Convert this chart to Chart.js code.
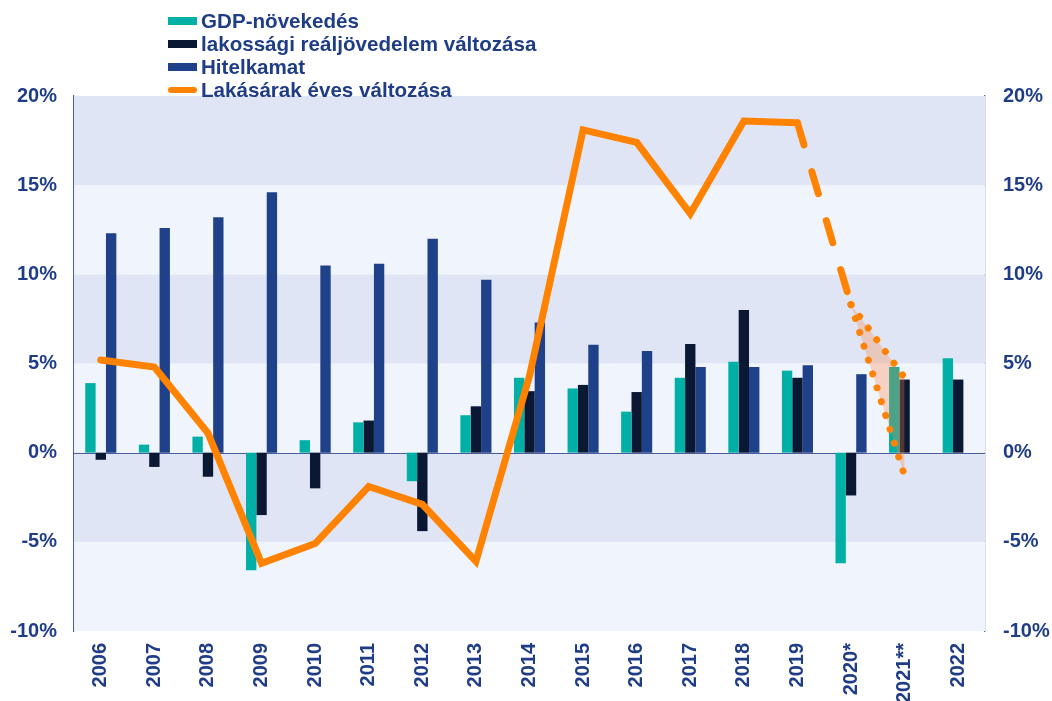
<!DOCTYPE html>
<html>
<head>
<meta charset="utf-8">
<script src="https://cdn.jsdelivr.net/npm/chart.js@4"></script>
<style>
  html, body { margin: 0; padding: 0; background: #fff; }
  #wrap { position: relative; width: 1052px; height: 701px; }
  #legend { position: absolute; left: 168px; top: 9px; font: bold 20.6px "Liberation Sans", Arial, sans-serif; color: #1f3d87; }
  #legend div { height: 23px; line-height: 23px; white-space: nowrap; display: flex; align-items: center; }
  #legend i { display: inline-block; width: 29px; height: 8px; margin-right: 4px; }
  #legend i.ln { height: 6px; border-radius: 3px; }
</style>
</head>
<body>
<div id="wrap">
  <canvas id="c" width="1052" height="701"></canvas>
  <div id="legend"></div>
</div>
<script>
// ---- data ----
const years = ["2006","2007","2008","2009","2010","2011","2012","2013","2014","2015","2016","2017","2018","2019","2020*","2021**","2022"];
const gdp      = [3.9, 0.45, 0.9, -6.6, 0.7, 1.7, -1.6, 2.1, 4.2, 3.6, 2.3, 4.2, 5.1, 4.6, -6.2, 4.8, 5.3];
const income   = [-0.4, -0.8, -1.35, -3.5, -2.0, 1.8, -4.4, 2.6, 3.45, 3.8, 3.4, 6.1, 8.0, 4.2, -2.4, 4.1, 4.1];
const rate     = [12.3, 12.6, 13.2, 14.6, 10.5, 10.6, 12.0, 9.7, 7.3, 6.05, 5.7, 4.8, 4.8, 4.9, 4.4, null, null];
const house    = [5.2, 4.8, 1.1, -6.2, -5.1, -1.9, -2.9, -6.1, 4.3, 18.1, 17.4, 13.4, 18.6, 18.5, null, null, null];
const houseEst = [null, null, null, null, null, null, null, null, null, null, null, null, null, 18.5, 8.3, null, null];
const houseHi  = [null, null, null, null, null, null, null, null, null, null, null, null, null, null, 8.3, 4.2, null];
const houseLo  = [null, null, null, null, null, null, null, null, null, null, null, null, null, null, 8.3, -1.3, null];

const C = { teal: "#00b0a6", navy: "#0b1833", blue: "#1f4189", orange: "#ff8200", text: "#1f3d87", axis: "#4a5e9c" };
const FONT = { family: "'Liberation Sans', Arial, sans-serif", size: 20, weight: "bold" };

// legend (html)
const legendItems = [
  ["GDP-növekedés", C.teal, false],
  ["lakossági reáljövedelem változása", C.navy, false],
  ["Hitelkamat", C.blue, false],
  ["Lakásárak éves változása", C.orange, true]
];
document.getElementById("legend").innerHTML = legendItems.map(function (it) {
  return '<div><i class="' + (it[2] ? "ln" : "") + '" style="background:' + it[1] + '"></i>' + it[0] + '</div>';
}).join("");

// alternating bands behind the plot
const bands = {
  id: "bands",
  beforeDatasetsDraw(chart) {
    const { ctx, chartArea: a, scales: { y } } = chart;
    ctx.save();
    for (let v = -10; v < 20; v += 5) {
      const top = y.getPixelForValue(v + 5), bot = y.getPixelForValue(v);
      ctx.fillStyle = (Math.abs(v / 5) % 2 === 0) ? "#f0f4fc" : "#dfe5f4";
      ctx.fillRect(a.left, top, a.right - a.left, bot - top);
    }
    // zero line
    const z = Math.round(y.getPixelForValue(0)) + 0.5;
    ctx.strokeStyle = C.axis; ctx.lineWidth = 1.2;
    ctx.beginPath(); ctx.moveTo(a.left, z); ctx.lineTo(a.right, z); ctx.stroke();
    ctx.restore();
  }
};

const barBase = { categoryPercentage: 0.58, barPercentage: 1, order: 2, yAxisID: "y" };
const lineBase = { type: "line", order: 1, yAxisID: "y", borderColor: C.orange, pointRadius: 0, fill: false, spanGaps: false };

new Chart(document.getElementById("c"), {
  type: "bar",
  data: {
    labels: years,
    datasets: [
      Object.assign({ label: "GDP-növekedés", data: gdp, backgroundColor: C.teal }, barBase),
      Object.assign({ label: "lakossági reáljövedelem változása", data: income, backgroundColor: C.navy }, barBase),
      Object.assign({ label: "Hitelkamat", data: rate, backgroundColor: C.blue }, barBase),
      Object.assign({ label: "Lakásárak éves változása", data: house, borderWidth: 7, borderCapStyle: "round", borderJoinStyle: "miter" }, lineBase),
      Object.assign({ label: "becslés", data: houseEst, borderWidth: 7, borderCapStyle: "round", borderDash: [23, 28] }, lineBase),
      Object.assign({}, lineBase, { label: "felső", data: houseHi, borderWidth: 7, borderCapStyle: "round", borderDash: [0.01, 14.5],
                      fill: "+1", backgroundColor: "rgba(255,130,60,0.30)" }),
      Object.assign({ label: "alsó", data: houseLo, borderWidth: 7, borderCapStyle: "round", borderDash: [0.01, 14.5] }, lineBase)
    ]
  },
  options: {
    responsive: false,
    animation: false,
    layout: { padding: { top: 96, left: 0, right: 0, bottom: 0 } },
    plugins: { legend: { display: false }, tooltip: { enabled: false } },
    scales: {
      x: {
        grid: { display: false, drawTicks: false },
        border: { display: false },
        ticks: { color: C.text, font: FONT, minRotation: 90, maxRotation: 90, padding: 12, autoSkip: false },
        afterFit: function (s) { s.height = 70; }
      },
      y: {
        position: "left", min: -10, max: 20,
        grid: { display: false, drawTicks: false },
        border: { display: true, color: C.axis, width: 1.2 },
        ticks: { stepSize: 5, color: C.text, font: FONT, padding: 17, callback: function (v) { return v + "%"; } },
        afterFit: function (s) { s.width = 74; }
      },
      y2: {
        position: "right", min: -10, max: 20,
        grid: { display: false, drawTicks: false },
        border: { display: true, color: C.axis, width: 1.2 },
        ticks: { stepSize: 5, color: C.text, font: FONT, padding: 18, callback: function (v) { return v + "%"; } },
        afterFit: function (s) { s.width = 67; }
      }
    }
  },
  plugins: [bands]
});
</script>
</body>
</html>
